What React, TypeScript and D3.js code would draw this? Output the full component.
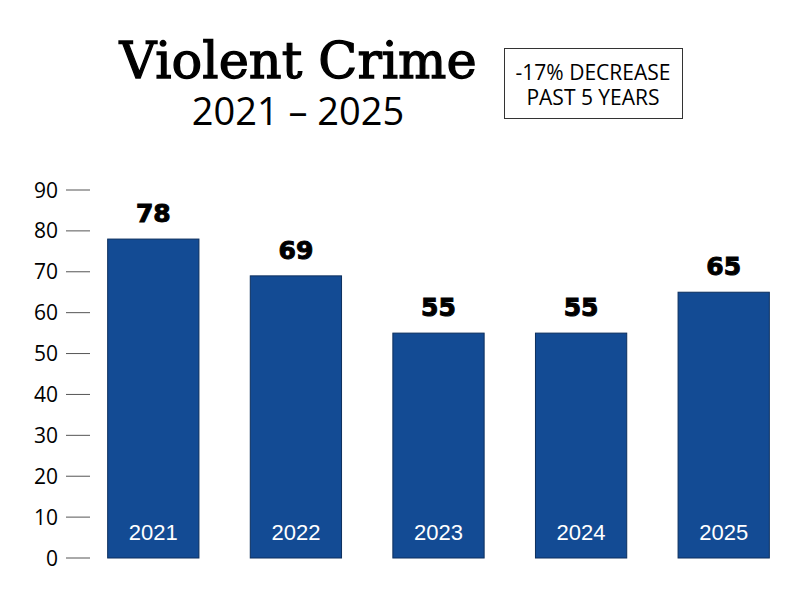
import React from "react";
import * as d3 from "d3";

const years = ["2021", "2022", "2023", "2024", "2025"];
const values = [78, 69, 55, 55, 65];
const yTicks = [0, 10, 20, 30, 40, 50, 60, 70, 80, 90];

export default function App() {
  const W = 801, H = 600;
  const y = d3.scaleLinear().domain([0, 90]).range([558, 190]);
  const x = d3.scaleBand().domain(years).range([82, 795]).paddingInner(0.36).paddingOuter(0.18);
  return (
    <svg width={W} height={H} style={{ position: "absolute", left: 0, top: 0, background: "#fff" }}>
      <text x={298} y={78} textAnchor="middle" fontFamily="'DejaVu Serif', serif" fontSize={51} fill="#000" stroke="#000" strokeWidth={1.3}>Violent Crime</text>
      <text x={298} y={125} textAnchor="middle" fontFamily="'Open Sans', sans-serif" fontSize={38} fill="#000">2021 – 2025</text>
      <rect x={504.5} y={48.5} width={178} height={70} fill="#fff" stroke="#333" strokeWidth={1} />
      <text x={593} y={80} textAnchor="middle" fontFamily="'Open Sans', sans-serif" fontSize={21} fill="#000">-17% DECREASE</text>
      <text x={593} y={105} textAnchor="middle" fontFamily="'Open Sans', sans-serif" fontSize={21} fill="#000">PAST 5 YEARS</text>
      {yTicks.map((t) => (
        <g key={t}>
          <line x1={66} x2={90} y1={y(t)} y2={y(t)} stroke="#555" strokeWidth={1} />
          <text x={58} y={y(t) + 7.5} textAnchor="end" fontFamily="'Open Sans', sans-serif" fontSize={21} fill="#000">{t}</text>
        </g>
      ))}
      {years.map((yr, i) => (
        <g key={yr}>
          <rect x={x(yr)} y={y(values[i])} width={x.bandwidth()} height={y(0) - y(values[i])} fill="#134b94" stroke="#0c2f5e" strokeWidth={1} />
          <text x={(x(yr) as number) + x.bandwidth() / 2} y={y(values[i]) - 17} textAnchor="middle" fontFamily="'DejaVu Sans', sans-serif" fontWeight={900} fontSize={25} fill="#000" stroke="#000" strokeWidth={1}>{values[i]}</text>
          <text x={(x(yr) as number) + x.bandwidth() / 2} y={540} textAnchor="middle" fontFamily="'Liberation Sans', Arial, sans-serif" fontSize={22} fill="#fff">{yr}</text>
        </g>
      ))}
    </svg>
  );
}
